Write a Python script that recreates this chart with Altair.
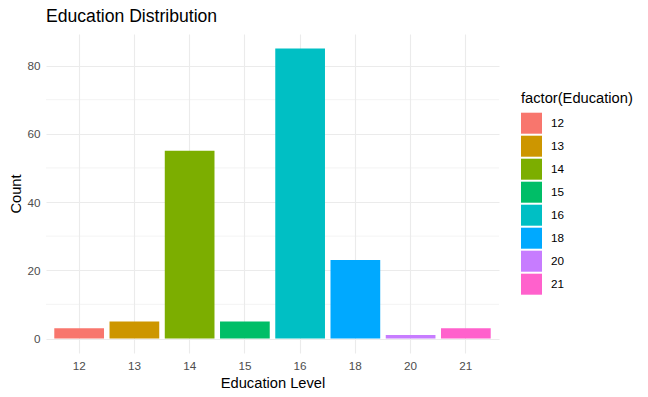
import altair as alt
import pandas as pd

education = ["12", "13", "14", "15", "16", "18", "20", "21"]
counts = [3, 5, 55, 5, 85, 23, 1, 3]
colors = ["#F8766D", "#CD9600", "#7CAE00", "#00BE67", "#00BFC4", "#00A9FF", "#C77CFF", "#FF61CC"]
major_y = [0, 20, 40, 60, 80]
minor_y = [10, 30, 50, 70]

df = pd.DataFrame({"Education": education, "Count": counts})
minor_df = pd.DataFrame({"y": minor_y})

FONT = "Liberation Sans"
GRID = "#EBEBEB"

y_scale = alt.Scale(domain=[-4.25, 89.25], nice=False, zero=False)
x_scale = alt.Scale(domain=education, paddingInner=0.1, paddingOuter=0.15)

minor = alt.Chart(minor_df).mark_rule(color=GRID, strokeWidth=0.6).encode(
    y=alt.Y("y:Q", scale=y_scale)
)

bars = alt.Chart(df).mark_bar().encode(
    x=alt.X(
        "Education:N",
        scale=x_scale,
        sort=education,
        axis=alt.Axis(
            title="Education Level",
            labelAngle=0,
            grid=True,
            gridColor=GRID,
            gridWidth=1.1,
            domain=False,
            ticks=False,
            labelPadding=7,
            titlePadding=4,
        ),
    ),
    y=alt.Y(
        "Count:Q",
        scale=y_scale,
        axis=alt.Axis(
            title="Count",
            values=major_y,
            grid=True,
            gridColor=GRID,
            gridWidth=1.1,
            domain=False,
            ticks=False,
            labelPadding=6,
            titlePadding=3,
        ),
    ),
    color=alt.Color(
        "Education:N",
        scale=alt.Scale(domain=education, range=colors),
        legend=alt.Legend(
            title="factor(Education)",
            orient="none",
            legendX=475,
            legendY=57,
            symbolType="square",
            symbolSize=441,
            symbolStrokeWidth=0,
            symbolOpacity=1,
            rowPadding=2,
            labelOffset=9,
            titlePadding=7,
            padding=0,
        ),
    ),
)

chart = (
    alt.layer(minor, bars)
    .properties(
        width=453,
        height=319,
        padding={"left": 38, "top": 26, "right": 140, "bottom": 42},
        autosize=alt.AutoSizeParams(type="none"),
        title=alt.TitleParams(
            "Education Distribution",
            anchor="start",
            frame="group",
            fontSize=17.6,
            fontWeight="normal",
            font=FONT,
            color="black",
            baseline="alphabetic",
            offset=11,
            dy=17,
        ),
    )
    .configure_view(stroke=None)
    .configure_axis(
        labelFont=FONT,
        labelFontSize=11.7,
        labelColor="#4D4D4D",
        titleFont=FONT,
        titleFontSize=14.7,
        titleFontWeight="normal",
        titleColor="black",
    )
    .configure_legend(
        labelFont=FONT,
        labelFontSize=11.7,
        labelColor="black",
        titleFont=FONT,
        titleFontSize=14.7,
        titleFontWeight="normal",
        titleColor="black",
    )
)

chart.save("out.html", embed_options={"renderer": "svg", "actions": False})
